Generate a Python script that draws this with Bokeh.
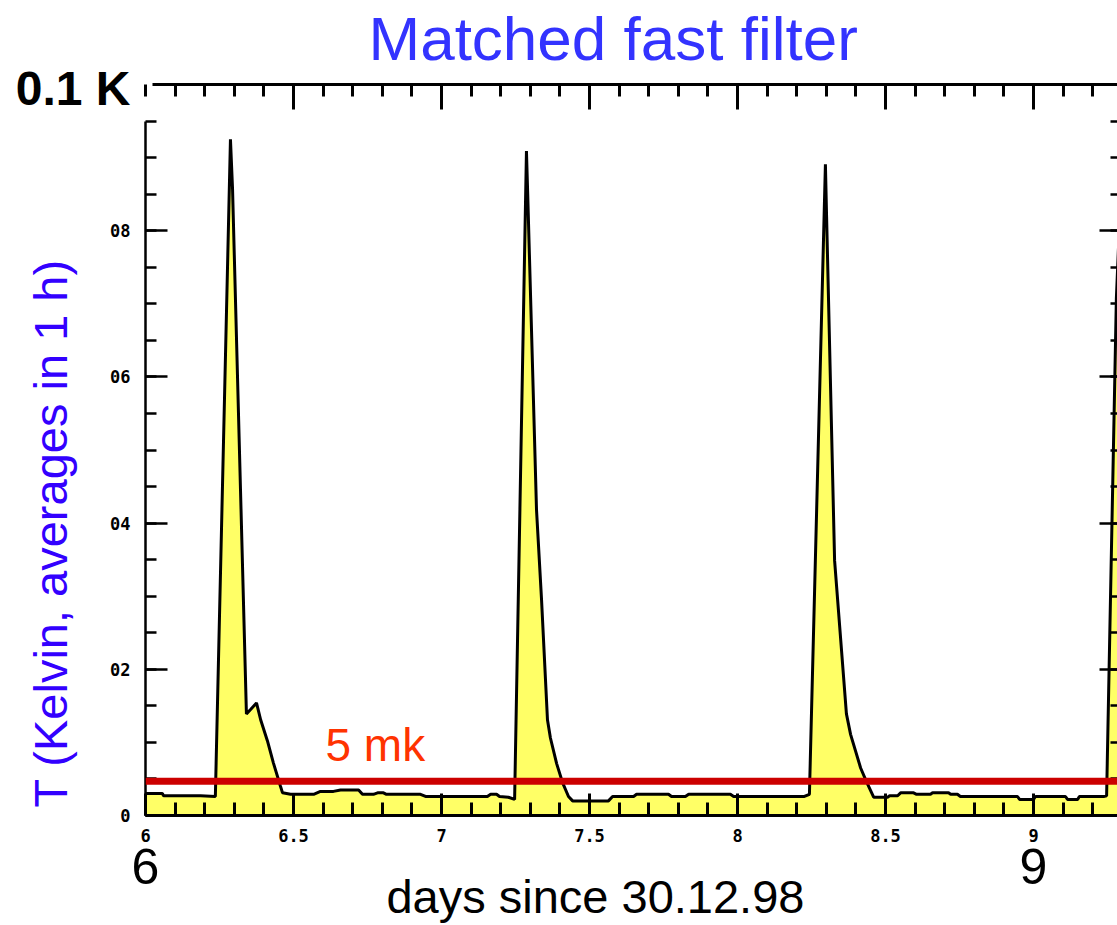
from bokeh.plotting import figure
from bokeh.models import LinearAxis, FixedTicker, Span, Label, Range1d, ColumnDataSource
from bokeh.embed import file_html
from bokeh.resources import INLINE

# ---------------- data ----------------
days = [6.000, 6.057, 6.061, 6.186, 6.236, 6.287, 6.294, 6.341, 6.355, 6.375,
        6.389, 6.412, 6.432, 6.456, 6.463, 6.490, 6.568, 6.591, 6.635, 6.659,
        6.720, 6.733, 6.770, 6.784, 6.804, 6.814, 6.929, 6.946, 7.155, 7.166,
        7.186, 7.196, 7.226, 7.247, 7.287, 7.291, 7.321, 7.338, 7.358, 7.368,
        7.389, 7.409, 7.429, 7.443, 7.564, 7.578, 7.649, 7.659, 7.767, 7.777,
        7.824, 7.835, 7.976, 7.987, 8.226, 8.243, 8.297, 8.301, 8.328, 8.368,
        8.382, 8.416, 8.436, 8.460, 8.507, 8.514, 8.541, 8.551, 8.595, 8.605,
        8.652, 8.659, 8.713, 8.720, 8.743, 8.753, 8.946, 8.953, 9.000, 9.007,
        9.108, 9.115, 9.149, 9.155, 9.237, 9.247, 9.280, 9.287]
temp_K = [0.0030, 0.0030, 0.0027, 0.0027, 0.0026, 0.0925, 0.0858, 0.0139, 0.0145, 0.0154,
          0.0131, 0.0102, 0.0072, 0.0040, 0.0031, 0.0029, 0.0029, 0.0033, 0.0033, 0.0035,
          0.0035, 0.0029, 0.0029, 0.0031, 0.0031, 0.0029, 0.0029, 0.0026, 0.0026, 0.0029,
          0.0029, 0.0026, 0.0025, 0.0022, 0.0909, 0.0854, 0.0418, 0.0295, 0.0131, 0.0106,
          0.0071, 0.0045, 0.0026, 0.0020, 0.0020, 0.0026, 0.0026, 0.0029, 0.0029, 0.0026,
          0.0026, 0.0029, 0.0029, 0.0026, 0.0026, 0.0029, 0.0891, 0.0819, 0.0349, 0.0139,
          0.0111, 0.0065, 0.0046, 0.0025, 0.0025, 0.0027, 0.0027, 0.0031, 0.0031, 0.0029,
          0.0029, 0.0031, 0.0031, 0.0029, 0.0029, 0.0026, 0.0026, 0.0022, 0.0022, 0.0026,
          0.0026, 0.0022, 0.0022, 0.0026, 0.0026, 0.0027, 0.0708, 0.0776]

threshold_K = 0.0047
threshold_text = "5 mk"

x_major = [6.0, 6.5, 7.0, 7.5, 8.0, 8.5, 9.0]
x_labels = ["6", "6.5", "7", "7.5", "8", "8.5", "9"]
big_days = [6.0, 9.0]
big_day_labels = ["6", "9"]
y_major = [0.0, 0.02, 0.04, 0.06, 0.08]
y_labels = ["0", "02", "04", "06", "08"]
scale_text = "0.1 K"

title_text = "Matched fast filter"
x_title = "days since 30.12.98"
y_title = "T (Kelvin, averages in 1 h)"
x_title_pos = 7.52      # where the x title is centred (days)
y_title_pos = 0.0386    # where the y title is centred (K)
scale_text_pos = 0.0995 # where the "0.1 K" marker is centred (K)

# ---------------- figure ----------------
FONT = "Liberation Sans"
SMALL = "DejaVu Sans Mono"
p = figure(width=1117, height=925, output_backend="svg", toolbar_location=None,
           x_range=Range1d(6.0, 6.0 + 972 / 296), y_range=Range1d(0.0, 0.1),
           x_axis_location=None, y_axis_location=None,
           min_border_left=145, min_border_right=0, min_border_top=83, min_border_bottom=109,
           background_fill_color="white", border_fill_color="white",
           outline_line_color=None)
p.grid.visible = False

x_minor = [round(6.0 + 0.1 * i, 1) for i in range(34)]
y_minor = [round(0.005 * i, 3) for i in range(20)]

no_ticks = dict(axis_line_color=None, major_tick_in=0, major_tick_out=0,
                minor_tick_in=0, minor_tick_out=0)
tick_style = dict(major_tick_out=0, minor_tick_out=0,
                  major_tick_line_color="black", minor_tick_line_color="black",
                  axis_line_color="black",
                  major_label_text_font=SMALL, major_label_text_font_style="bold",
                  major_label_text_font_size="17px", major_label_text_color="black")

# bottom axis with small tick labels
bottom = LinearAxis(ticker=FixedTicker(ticks=x_major, minor_ticks=x_minor),
                    major_label_overrides=dict(zip(x_major, x_labels)),
                    axis_line_width=3, major_tick_in=22, minor_tick_in=13,
                    major_tick_line_width=3, minor_tick_line_width=3,
                    major_label_standoff=13, **tick_style)
p.add_layout(bottom, "below")

# second bottom axis: big day labels
bottom2 = LinearAxis(ticker=FixedTicker(ticks=big_days, minor_ticks=[]),
                     bounds=(6.0, 9.0),
                     major_label_overrides=dict(zip(big_days, big_day_labels)),
                     major_label_standoff=4,
                     major_label_text_font=FONT, major_label_text_font_size="50px",
                     major_label_text_color="black", **no_ticks)
p.add_layout(bottom2, "below")

# third bottom axis: the x title
bottom3 = LinearAxis(ticker=FixedTicker(ticks=[x_title_pos], minor_ticks=[]),
                     major_label_overrides={x_title_pos: x_title},
                     major_label_standoff=-17,
                     major_label_text_font=FONT, major_label_text_font_size="47px",
                     major_label_text_color="black", **no_ticks)
p.add_layout(bottom3, "below")

# left axis with tick labels
left = LinearAxis(ticker=FixedTicker(ticks=y_major, minor_ticks=y_minor),
                  bounds=(0.0, 0.095),
                  major_label_overrides=dict(zip(y_major, y_labels)),
                  axis_line_width=2.5, major_tick_in=22, minor_tick_in=11,
                  major_tick_line_width=2.5, minor_tick_line_width=2.5,
                  major_label_standoff=15, **tick_style)
p.add_layout(left, "left")

# second left axis: the y title
left2 = LinearAxis(ticker=FixedTicker(ticks=[y_title_pos], minor_ticks=[]),
                   major_label_overrides={y_title_pos: y_title},
                   major_label_orientation="vertical",
                   major_label_standoff=30,
                   major_label_text_font=FONT, major_label_text_font_size="47px",
                   major_label_text_color="#3300ff", **no_ticks)
p.add_layout(left2, "left")

# third left axis: the "0.1 K" scale marker
left3 = LinearAxis(ticker=FixedTicker(ticks=[scale_text_pos], minor_ticks=[]),
                   bounds=(0.0, 0.1),
                   major_label_overrides={scale_text_pos: scale_text},
                   major_label_standoff=-109,
                   major_label_text_font=FONT, major_label_text_font_size="48px",
                   major_label_text_font_style="bold", major_label_text_color="black",
                   **no_ticks)
p.add_layout(left3, "left")

top_style = dict(tick_style)
top_style["major_label_text_font_size"] = "1px"
top_style["major_label_text_color"] = "white"
top = LinearAxis(ticker=FixedTicker(ticks=x_major[1:], minor_ticks=x_minor),
                 bounds=(6.024, 9.3),
                 major_label_overrides={t: " " for t in x_major[1:]},
                 axis_line_width=3, major_tick_in=25, minor_tick_in=12,
                 major_tick_line_width=3, minor_tick_line_width=3,
                 major_label_standoff=3, **top_style)
p.add_layout(top, "above")

right_style = dict(tick_style)
right_style["major_label_text_font_size"] = "0px"
right_style["axis_line_color"] = None
right = LinearAxis(ticker=FixedTicker(ticks=y_major, minor_ticks=y_minor),
                   bounds=(0.0, 0.095),
                   major_label_overrides={t: "" for t in y_major},
                   major_tick_in=18, minor_tick_in=7,
                   major_tick_line_width=2.5, minor_tick_line_width=2.5,
                   major_label_standoff=0, **right_style)
p.add_layout(right, "right")

# ---------------- data marks ----------------
src = ColumnDataSource(dict(day=days, T=temp_K))
p.varea(x="day", y1=0, y2="T", source=src, fill_color="#ffff66")
p.line(x="day", y="T", source=src, line_color="black", line_width=3)

p.add_layout(Span(location=threshold_K, dimension="width",
                  line_color="#cc0000", line_width=7))

p.add_layout(Label(x=6.608, y=0.0096, text=threshold_text, text_color="#ff3300",
                   text_font=FONT, text_font_size="46px", text_baseline="alphabetic"))

# ---------------- title ----------------
p.title.text = title_text
p.title.align = "left"
p.title.offset = 223
p.title.standoff = 6
p.title.vertical_align = "top"
p.title.text_font = FONT
p.title.text_font_size = "62px"
p.title.text_font_style = "normal"
p.title.text_color = "#3333ff"

open("out.html", "w").write(file_html(p, INLINE))
